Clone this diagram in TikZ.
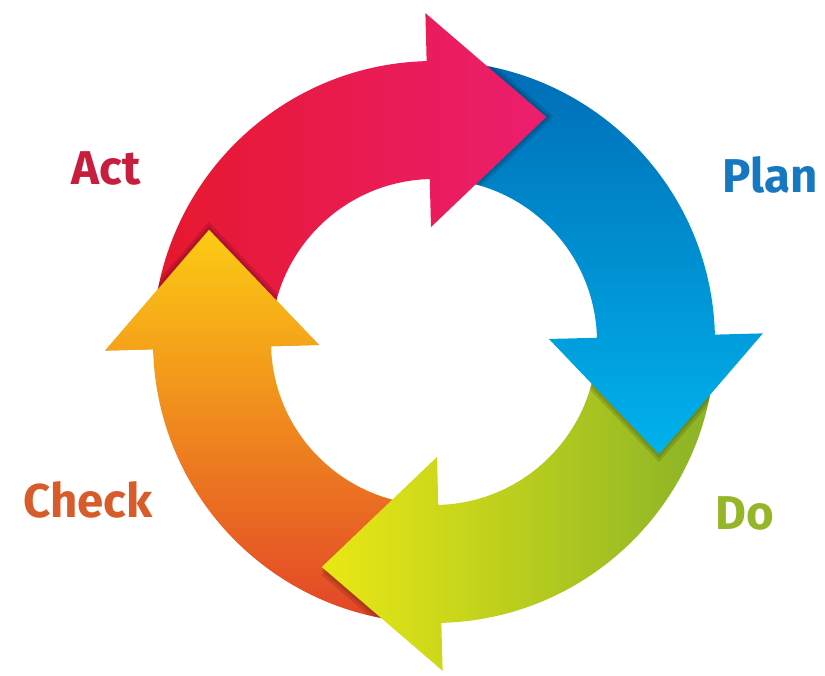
\documentclass[tikz,border=0pt]{standalone}
\usepackage{fontspec}
\setmainfont{Fira Sans}
\usetikzlibrary{positioning}

\definecolor{actleft}{RGB}{230,24,44}
\definecolor{actright}{RGB}{236,30,112}
\definecolor{plantop}{RGB}{0,108,182}
\definecolor{planbottom}{RGB}{0,178,236}
\definecolor{doright}{RGB}{136,178,40}
\definecolor{doleft}{RGB}{234,232,20}
\definecolor{checktop}{RGB}{252,204,20}
\definecolor{checkbottom}{RGB}{226,66,40}
\definecolor{acttext}{RGB}{200,30,62}
\definecolor{plantext}{RGB}{22,120,192}
\definecolor{checktext}{RGB}{216,92,42}
\definecolor{dotext}{RGB}{150,182,40}

\tikzset{
  cycletext/.style={font=\fontsize{27}{32}\selectfont\bfseries, anchor=base},
  headshadow/.style={fill=black, opacity=0.12},
}

\newcommand{\actpath}{(181.5:281) arc[start angle=181.5, end angle=91.5, radius=281] -- (91.5:329) -- (63.5:251.4) -- (91.5:115) -- (91.5:163) arc[start angle=91.5, end angle=181.5, radius=163] -- cycle}
\newcommand{\planpath}{(91.5:281) arc[start angle=91.5, end angle=1.5, radius=281] -- (1.5:329) -- (-26.5:251.4) -- (1.5:115) -- (1.5:163) arc[start angle=1.5, end angle=91.5, radius=163] -- cycle}
\newcommand{\dopath}{(1.5:281) arc[start angle=1.5, end angle=-88.5, radius=281] -- (-88.5:329) -- (-116.5:251.4) -- (-88.5:115) -- (-88.5:163) arc[start angle=-88.5, end angle=1.5, radius=163] -- cycle}
\newcommand{\checkpath}{(271.5:281) arc[start angle=271.5, end angle=181.5, radius=281] -- (181.5:329) -- (153.5:251.4) -- (181.5:115) -- (181.5:163) arc[start angle=181.5, end angle=271.5, radius=163] -- cycle}

\begin{document}
\begin{tikzpicture}[x=0.02cm, y=0.02cm]
  \useasboundingbox (0,0) rectangle (825,676);

  \begin{scope}[shift={(434,334)}]
    % check (drawn first, its head comes back at the end)
    \shade[top color=checktop, bottom color=checkbottom] \checkpath;
    \begin{scope}
      \clip \checkpath;
      \fill[headshadow, shift={(-91.5:4)}] (-88.5:329) -- (-116.5:251.4) -- (-88.5:115) -- cycle;
      \fill[headshadow, shift={(-91.5:8)}] (-88.5:329) -- (-116.5:251.4) -- (-88.5:115) -- cycle;
    \end{scope}
    % do
    \shade[left color=doleft, right color=doright] \dopath;
    \begin{scope}
      \clip \dopath;
      \fill[headshadow, shift={(-88.5:4)}] (1.5:329) -- (-26.5:251.4) -- (1.5:115) -- cycle;
      \fill[headshadow, shift={(-88.5:8)}] (1.5:329) -- (-26.5:251.4) -- (1.5:115) -- cycle;
    \end{scope}
    % plan
    \shade[top color=plantop, bottom color=planbottom] \planpath;
    \begin{scope}
      \clip \planpath;
      \fill[headshadow, shift={(1.5:4)}] (91.5:329) -- (63.5:251.4) -- (91.5:115) -- cycle;
      \fill[headshadow, shift={(1.5:8)}] (91.5:329) -- (63.5:251.4) -- (91.5:115) -- cycle;
    \end{scope}
    % act
    \shade[left color=actleft, right color=actright] \actpath;
    \begin{scope}
      \clip \actpath;
      \fill[headshadow, shift={(91.5:4)}] (181.5:329) -- (153.5:251.4) -- (181.5:115) -- cycle;
      \fill[headshadow, shift={(91.5:8)}] (181.5:329) -- (153.5:251.4) -- (181.5:115) -- cycle;
    \end{scope}
    % check head on top of act
    \begin{scope}
      \clip (182.5:329) -- (181.5:329) -- (153.5:251.4) -- (181.5:115) -- (182.5:115) -- cycle;
      \shade[top color=checktop, bottom color=checkbottom] \checkpath;
    \end{scope}
  \end{scope}

  \node[cycletext, text=acttext] (act) at (106,491) {Act};
  \node[cycletext, text=plantext] (plan) at (770,483) {Plan};
  \node[cycletext, text=checktext] (check) at (88,158) {Check};
  \node[cycletext, text=dotext] (do) at (745,146) {Do};
\end{tikzpicture}
\end{document}
